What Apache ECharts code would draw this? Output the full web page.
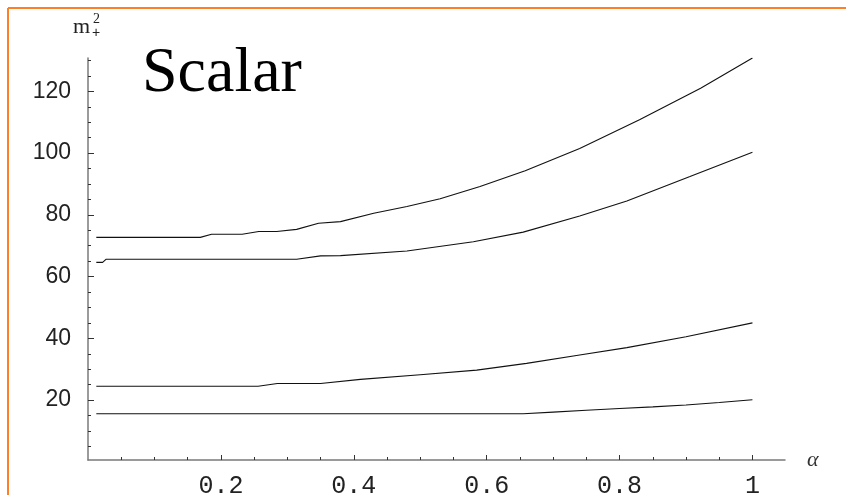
<!DOCTYPE html>
<html>
<head>
<meta charset="utf-8">
<script src="https://cdn.jsdelivr.net/npm/echarts@6/dist/echarts.min.js"></script>
<style>
  html, body { margin: 0; padding: 0; background: #fff; }
  #chart { width: 846px; height: 495px; }
</style>
</head>
<body>
<div id="chart"></div>
<script>
// Scalar m_+^2 spectrum versus alpha: four lowest levels.
const level1Alpha = [0.0125, 0.655, 0.7, 0.75, 0.8, 0.85, 0.9, 0.95, 1.0];
const level1Mass  = [15.6, 15.6, 16.1, 16.7, 17.3, 17.8, 18.4, 19.2, 20.1];

const level2Alpha = [0.0125, 0.256, 0.285, 0.35, 0.41, 0.5, 0.585, 0.66, 0.74, 0.811, 0.9, 1.0];
const level2Mass  = [24.5, 24.5, 25.4, 25.4, 26.7, 28.2, 29.7, 31.9, 34.6, 37.0, 40.5, 45.0];

const level3Alpha = [0.0125, 0.022, 0.027, 0.314, 0.35, 0.38, 0.48, 0.58, 0.655, 0.74, 0.811, 0.906, 1.0];
const level3Mass  = [64.6, 64.6, 65.6, 65.6, 66.7, 66.8, 68.3, 71.3, 74.4, 79.6, 84.5, 92.4, 100.3];

const level4Alpha = [0.0125, 0.169, 0.186, 0.232, 0.257, 0.284, 0.314, 0.347, 0.38, 0.43, 0.48, 0.53, 0.59, 0.658, 0.74, 0.83, 0.922, 1.0];
const level4Mass  = [72.7, 72.7, 73.7, 73.7, 74.6, 74.6, 75.3, 77.3, 77.8, 80.5, 82.7, 85.2, 89.2, 94.3, 101.5, 110.8, 121.0, 130.8];

// Tick positions
const xMajorTicks = [0.2, 0.4, 0.6, 0.8, 1.0];
const xMinorTicks = [0.05, 0.1, 0.15, 0.25, 0.3, 0.35, 0.45, 0.5, 0.55, 0.65, 0.7, 0.75, 0.85, 0.9, 0.95];
const yMajorTicks = [20, 40, 60, 80, 100, 120];
const yMinorTicks = [5, 10, 15, 25, 30, 35, 45, 50, 55, 65, 70, 75, 85, 90, 95, 105, 110, 115, 125, 130];

const levels = [
  [level1Alpha, level1Mass],
  [level2Alpha, level2Mass],
  [level3Alpha, level3Mass],
  [level4Alpha, level4Mass]
];

const X_MIN = 0, X_MAX = 1.049;
const Y_MIN = 0.6, Y_MAX = 130.8;
const axisGray = '#7a7a7a';

const chart = echarts.init(document.getElementById('chart'), null, { renderer: 'canvas' });

const option = {
  animation: false,
  backgroundColor: '#ffffff',
  grid: { left: 88, right: 61, top: 58, bottom: 35, containLabel: false, outerBoundsMode: 'none' },
  xAxis: [
    {
      type: 'value', min: X_MIN, max: X_MAX, position: 'bottom',
      axisLine: { show: true, lineStyle: { color: axisGray, width: 1.5 } },
      axisTick: { show: true, inside: true, length: 5, customValues: xMajorTicks, lineStyle: { color: '#333', width: 1 } },
      axisLabel: {
        show: true, customValues: xMajorTicks, margin: 14,
        fontFamily: 'Liberation Mono', fontSize: 25, color: '#222',
        formatter: v => (Math.abs(v - 1) < 1e-9 ? '1' : v.toFixed(1))
      },
      splitLine: { show: false }
    },
    {
      type: 'value', min: X_MIN, max: X_MAX, position: 'bottom',
      axisLine: { show: false },
      axisTick: { show: true, inside: true, length: 3, customValues: xMinorTicks, lineStyle: { color: '#333', width: 1 } },
      axisLabel: { show: false },
      splitLine: { show: false }
    }
  ],
  yAxis: [
    {
      type: 'value', min: Y_MIN, max: Y_MAX, position: 'left',
      axisLine: { show: true, lineStyle: { color: axisGray, width: 1.5 } },
      axisTick: { show: true, inside: true, length: 6, customValues: yMajorTicks, lineStyle: { color: '#333', width: 1 } },
      axisLabel: {
        show: true, customValues: yMajorTicks, margin: 17,
        fontFamily: 'Liberation Sans', fontSize: 23, color: '#222'
      },
      splitLine: { show: false }
    },
    {
      type: 'value', min: Y_MIN, max: Y_MAX, position: 'left',
      axisLine: { show: false },
      axisTick: { show: true, inside: true, length: 3, customValues: yMinorTicks, lineStyle: { color: '#333', width: 1 } },
      axisLabel: { show: false },
      splitLine: { show: false }
    }
  ],
  series: levels.map(([a, m]) => ({
    type: 'line',
    xAxisIndex: 0,
    yAxisIndex: 0,
    data: a.map((x, i) => [x, m[i]]),
    showSymbol: false,
    symbol: 'none',
    smooth: false,
    lineStyle: { color: '#111', width: 1.1 }
  })),
  graphic: [
    // frame
    { type: 'line', shape: { x1: 8, y1: 8, x2: 846, y2: 8 }, style: { stroke: '#ff7f27', lineWidth: 2 }, z: 10 },
    { type: 'line', shape: { x1: 8, y1: 8, x2: 8, y2: 495 }, style: { stroke: '#ff7f27', lineWidth: 2 }, z: 10 },
    // title
    { type: 'text', left: 142, top: 42, style: { text: 'Scalar', font: '64px "Liberation Serif"', fill: '#000' }, z: 10 },
    // y-axis name m_+^2
    { type: 'text', left: 73, top: 16, style: { text: 'm', font: '22px "Liberation Serif"', fill: '#222' }, z: 10 },
    { type: 'text', left: 93, top: 12, style: { text: '2', font: '14px "Liberation Serif"', fill: '#222' }, z: 10 },
    { type: 'text', left: 92, top: 26, style: { text: '+', font: '14px "Liberation Sans"', fill: '#222' }, z: 10 },
    // x-axis name alpha
    { type: 'text', left: 807, top: 449, style: { text: 'α', font: 'italic 22px "Liberation Serif"', fill: '#333' }, z: 10 }
  ]
};

chart.setOption(option);
</script>
</body>
</html>
